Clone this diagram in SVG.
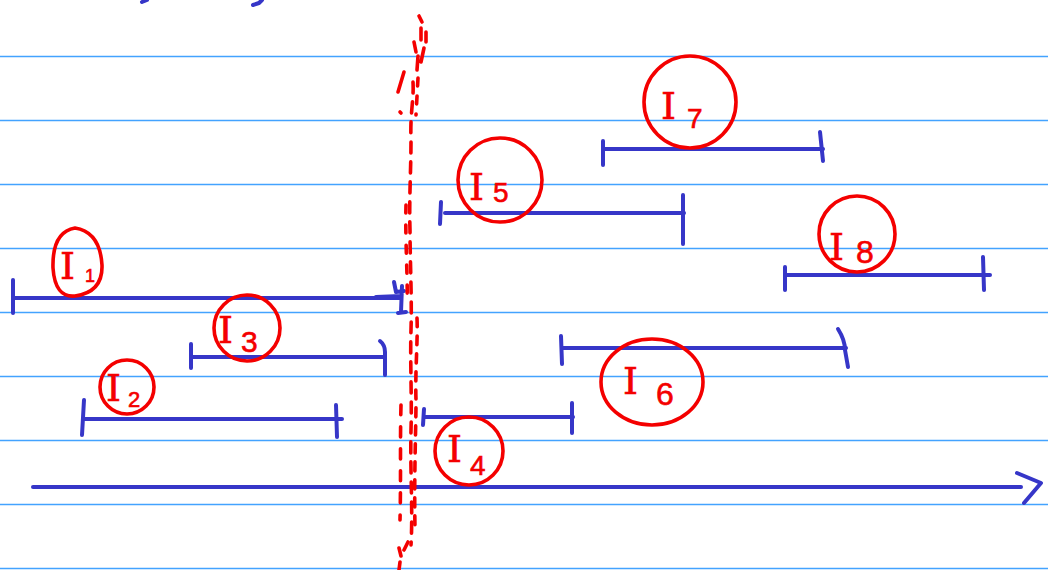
<svg xmlns="http://www.w3.org/2000/svg" width="1048" height="570" viewBox="0 0 1048 570">
  <style>
    .rule { stroke: #43a3ff; stroke-width: 1.6; }
    .seg { fill: none; stroke: #3636c8; stroke-width: 4; stroke-linecap: round; stroke-linejoin: round; }
    .ring { fill: none; stroke: #f40000; stroke-width: 3.6; }
    .cut { fill: none; stroke: #f40000; stroke-width: 3.6; stroke-linecap: round; }
    .lbl { fill: #f40000; stroke: #f40000; stroke-width: 0.6; font-family: "DejaVu Serif", "Liberation Serif", serif; font-size: 38px; }
    .sub { font-family: "Liberation Sans", sans-serif; stroke-width: 0.6; }
  </style>
  <rect width="1048" height="570" fill="#ffffff"/>

  <!-- ruled paper -->
  <g id="rules">
    <line class="rule" x1="0" y1="56.5" x2="1048" y2="56.5"/>
    <line class="rule" x1="0" y1="120.5" x2="1048" y2="120.5"/>
    <line class="rule" x1="0" y1="184.5" x2="1048" y2="184.5"/>
    <line class="rule" x1="0" y1="248.5" x2="1048" y2="248.5"/>
    <line class="rule" x1="0" y1="312.5" x2="1048" y2="312.5"/>
    <line class="rule" x1="0" y1="376.5" x2="1048" y2="376.5"/>
    <line class="rule" x1="0" y1="440.5" x2="1048" y2="440.5"/>
    <line class="rule" x1="0" y1="504.5" x2="1048" y2="504.5"/>
    <line class="rule" x1="0" y1="568.5" x2="1048" y2="568.5"/>
  </g>

  <!-- ink fragments at the top edge -->
  <g id="top-ink">
    <path class="seg" d="M142 2 L147 0"/>
    <path class="seg" d="M253 5 L259 3 L262 0"/>
  </g>

  <!-- time axis -->
  <g id="axis">
    <path class="seg" d="M33 487 L1021 487"/>
    <path class="seg" d="M1017 473 L1041 483 L1024 503"/>
  </g>

  <!-- intervals -->
  <g id="interval-1">
    <path class="seg" d="M13 280 L13 313"/>
    <path class="seg" d="M13 298 L400 298"/>
    <path class="seg" d="M376 297 L401 296 M394 282 L396 292 L404 291 M402 286 L401 312 M398 313 L406 312"/>
  </g>
  <g id="interval-2">
    <path class="seg" d="M84 400 L82 435"/>
    <path class="seg" d="M84 419 L342 419"/>
    <path class="seg" d="M336 405 L337 437"/>
  </g>
  <g id="interval-3">
    <path class="seg" d="M191 344 L191 368"/>
    <path class="seg" d="M193 357 L385 357"/>
    <path class="seg" d="M380 341 Q385 345 385 352 L385 375"/>
  </g>
  <g id="interval-4">
    <path class="seg" d="M424 409 L423 425"/>
    <path class="seg" d="M425 417 L573 417"/>
    <path class="seg" d="M572 403 L572 433"/>
  </g>
  <g id="interval-5">
    <path class="seg" d="M441 202 L440 224"/>
    <path class="seg" d="M445 213 L684 213"/>
    <path class="seg" d="M683 195 L683 244"/>
  </g>
  <g id="interval-6">
    <path class="seg" d="M561 336 L562 364"/>
    <path class="seg" d="M563 348 L846 348"/>
    <path class="seg" d="M838 329 Q845 340 845 350 L848 367"/>
  </g>
  <g id="interval-7">
    <path class="seg" d="M603 141 L603 165"/>
    <path class="seg" d="M605 149 L823 149"/>
    <path class="seg" d="M820 132 L823 161"/>
  </g>
  <g id="interval-8">
    <path class="seg" d="M785 267 L785 290"/>
    <path class="seg" d="M787 275 L990 275"/>
    <path class="seg" d="M983 257 L984 290"/>
  </g>

  <!-- dashed red split line -->
  <g id="split">
    <path class="cut" d="M419 16 L422 22 M421 28 L421 40 M426 32 L426 42 M424 48 L421 62 M414 42 L416 52 M418 56 L417 70" />
    <path class="cut" d="M404 72 L398 92" />
    <path class="cut" d="M400 112 L401 113" />
    <path class="cut" stroke-dasharray="11 9" d="M413 82 C414 100, 410 112, 411 140 C411 170, 409 200, 410 230 C410 260, 412 300, 411 330 C410 360, 412 400, 411 430 C410 470, 413 510, 411 545" />
    <path class="cut" stroke-dasharray="8 10" d="M418 78 L416 115" />
    <path class="cut" stroke-dasharray="8 12" d="M406 205 C405 240, 408 280, 407 300" />
    <path class="cut" stroke-dasharray="9 9" d="M417 318 C418 340, 415 370, 416 400 C416 430, 414 470, 415 530" />
    <path class="cut" stroke-dasharray="10 12" d="M401 405 C400 440, 401 480, 400 520" />
    <path class="cut" d="M399 548 L401 556 M404 550 L408 542 M400 562 L399 570" />
  </g>

  <!-- circled labels -->
  <g id="label-1">
    <path class="ring" d="M75 228 Q100 232 102 265 Q103 292 75 296 Q55 298 53 268 Q52 232 75 228 Z"/>
    <text class="lbl" x="60" y="279" font-size="36">I<tspan class="sub" x="85" y="282" font-size="18">1</tspan></text>
  </g>
  <g id="label-2">
    <circle class="ring" cx="127" cy="387" r="27"/>
    <text class="lbl" x="106" y="401" font-size="32">I<tspan class="sub" x="128" y="407" font-size="22">2</tspan></text>
  </g>
  <g id="label-3">
    <circle class="ring" cx="247" cy="328" r="33"/>
    <text class="lbl" x="218" y="343">I<tspan class="sub" x="241" y="352" font-size="30">3</tspan></text>
  </g>
  <g id="label-4">
    <circle class="ring" cx="469" cy="451" r="34"/>
    <text class="lbl" x="447" y="462">I<tspan class="sub" x="470" y="475" font-size="28">4</tspan></text>
  </g>
  <g id="label-5">
    <circle class="ring" cx="500" cy="180" r="42"/>
    <text class="lbl" x="469" y="200">I<tspan class="sub" x="493" y="202" font-size="28">5</tspan></text>
  </g>
  <g id="label-6">
    <ellipse class="ring" cx="652" cy="382" rx="51" ry="43"/>
    <text class="lbl" x="623" y="394" font-size="42">I<tspan class="sub" x="656" y="405" font-size="32">6</tspan></text>
  </g>
  <g id="label-7">
    <circle class="ring" cx="690" cy="102" r="46"/>
    <text class="lbl" x="661" y="119">I<tspan class="sub" x="687" y="128" font-size="28">7</tspan></text>
  </g>
  <g id="label-8">
    <circle class="ring" cx="857" cy="234" r="38"/>
    <text class="lbl" x="829" y="260">I<tspan class="sub" x="856" y="263" font-size="32">8</tspan></text>
  </g>
</svg>
